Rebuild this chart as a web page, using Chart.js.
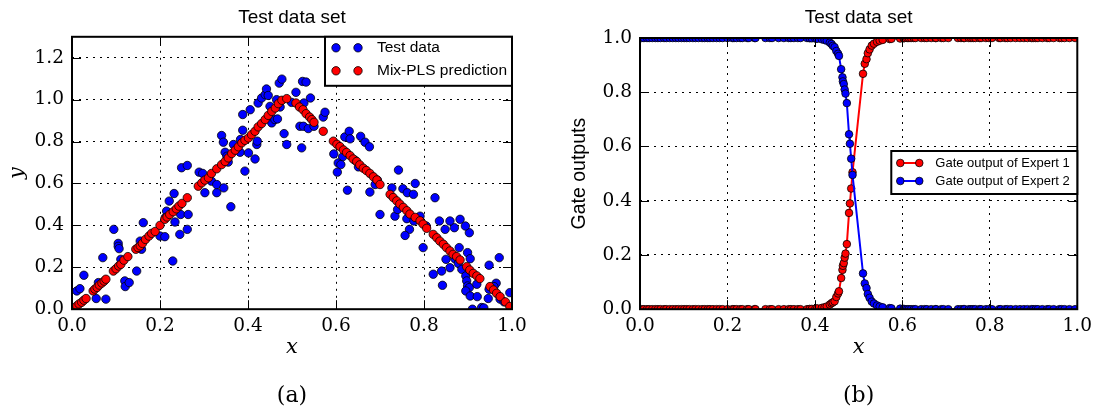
<!DOCTYPE html>
<html>
<head>
<meta charset="utf-8">
<script src="https://cdn.jsdelivr.net/npm/chart.js@4.4.0/dist/chart.umd.min.js"></script>
<style>
  html, body { margin: 0; padding: 0; background: #fff; }
  #wrap { position: relative; width: 1098px; height: 412px; }
  canvas { position: absolute; top: 0; }
</style>
</head>
<body>
<div id="wrap">
  <canvas id="chartA" width="549" height="412" style="left:0"></canvas>
  <canvas id="chartB" width="549" height="412" style="left:549px"></canvas>
</div>
<script>
// (a) test data
const testX = [
  0.011,0.018,0.027,0.055,0.060,0.070,0.077,0.095,0.105,0.105,
  0.107,0.111,0.120,0.121,0.130,0.147,0.155,0.158,0.162,0.200,
  0.211,0.221,0.229,0.232,0.219,0.234,0.245,0.247,0.264,0.262,
  0.215,0.212,0.249,0.262,0.289,0.297,0.302,0.317,0.329,0.329,
  0.345,0.361,0.393,0.340,0.344,0.348,0.352,0.355,0.367,0.382,
  0.388,0.388,0.401,0.416,0.420,0.421,0.405,0.423,0.431,0.439,
  0.442,0.450,0.454,0.461,0.467,0.473,0.465,0.471,0.477,0.482,
  0.488,0.499,0.446,0.509,0.524,0.532,0.542,0.527,0.518,0.526,
  0.537,0.550,0.522,0.571,0.575,0.620,0.630,0.632,0.656,0.666,
  0.676,0.595,0.615,0.605,0.611,0.643,0.651,0.603,0.742,0.626,
  0.677,0.689,0.700,0.727,0.752,0.762,0.776,0.780,0.734,0.740,
  0.761,0.767,0.757,0.777,0.791,0.798,0.805,0.825,0.835,0.848,
  0.850,0.840,0.821,0.842,0.869,0.880,0.870,0.903,0.899,0.905,
  0.859,0.878,0.886,0.895,0.897,0.899,0.903,0.895,0.905,0.920,
  0.921,0.931,0.948,0.964,0.959,0.948,0.946,0.971,0.973,0.982,
  0.995,0.910,0.936,0.859,0.882,0.894,0.694,0.383
];
const testY = [
  0.087,0.098,0.162,0.051,0.127,0.246,0.048,0.381,0.314,0.300,
  0.289,0.238,0.135,0.108,0.127,0.182,0.325,0.286,0.413,0.349,
  0.346,0.516,0.230,0.552,0.452,0.416,0.357,0.452,0.452,0.381,
  0.468,0.437,0.675,0.686,0.654,0.648,0.556,0.611,0.556,0.595,
  0.579,0.489,0.659,0.829,0.797,0.749,0.730,0.702,0.786,0.749,
  0.929,0.854,0.746,0.717,0.786,0.802,0.952,0.984,1.008,1.024,
  1.051,0.968,0.889,0.905,0.908,0.965,1.000,1.079,1.098,0.838,
  0.786,0.987,1.020,1.035,1.087,1.084,1.008,0.984,0.873,0.873,
  0.862,0.873,0.770,0.917,0.940,0.822,0.849,0.813,0.825,0.797,
  0.775,0.741,0.727,0.698,0.690,0.711,0.679,0.654,0.664,0.568,
  0.559,0.595,0.452,0.579,0.575,0.556,0.548,0.600,0.444,0.476,
  0.432,0.381,0.352,0.421,0.444,0.294,0.397,0.532,0.421,0.381,
  0.238,0.182,0.167,0.114,0.389,0.294,0.241,0.365,0.270,0.241,
  0.198,0.219,0.190,0.159,0.135,0.111,0.103,0.087,0.063,0.119,
  0.060,0.008,0.210,0.124,0.108,0.095,0.051,0.246,0.048,0.035,
  0.079,0.000,0.006,0.421,0.429,0.397,0.616,0.810
];

// (a) Mix-PLS prediction
const predX = [
  0.006,0.011,0.016,0.022,0.027,0.032,
  0.048,0.052,0.057,0.062,0.068,0.073,0.077,
  0.094,0.100,0.106,0.111,0.118,0.127,
  0.145,0.150,0.155,0.160,0.167,0.175,0.181,0.189,
  0.200,0.211,0.216,0.222,0.230,0.237,0.243,0.250,0.262,
  0.287,0.295,0.302,0.310,0.317,0.329,0.340,0.348,0.355,0.363,
  0.371,0.378,0.386,0.393,0.401,0.408,0.416,0.423,0.431,0.439,
  0.446,0.454,0.462,0.469,0.477,0.488,
  0.509,0.517,0.525,0.532,0.540,0.545,0.550,0.571,
  0.594,0.602,0.609,0.617,0.624,0.632,0.639,0.647,0.654,0.662,0.669,0.677,
  0.685,0.693,0.700,
  0.723,0.730,0.738,0.745,0.753,0.761,0.768,0.780,0.791,0.798,0.806,
  0.821,0.829,0.836,0.844,0.851,0.859,0.866,0.874,0.882,
  0.897,0.904,0.912,0.920,0.927,
  0.950,0.958,0.965,0.973,0.985,0.995
];
const predY = [
  0.005,0.016,0.025,0.033,0.043,0.051,
  0.087,0.096,0.104,0.115,0.125,0.134,0.143,
  0.182,0.193,0.206,0.214,0.234,0.251,
  0.286,0.294,0.302,0.314,0.333,0.349,0.362,0.371,
  0.400,0.429,0.440,0.452,0.465,0.479,0.492,0.505,0.532,
  0.587,0.603,0.616,0.627,0.648,0.670,0.690,0.705,0.722,0.743,
  0.759,0.775,0.794,0.806,0.817,0.833,0.849,0.870,0.886,0.905,
  0.925,0.944,0.960,0.981,0.997,1.005,
  0.984,0.965,0.952,0.933,0.917,0.905,0.892,0.849,
  0.802,0.787,0.776,0.760,0.748,0.733,0.717,0.705,0.689,0.673,0.662,0.648,
  0.632,0.617,0.595,
  0.548,0.533,0.517,0.502,0.486,0.470,0.454,0.438,0.422,0.406,0.386,
  0.357,0.341,0.325,0.310,0.294,0.278,0.262,0.251,0.235,
  0.203,0.187,0.171,0.159,0.146,
  0.108,0.092,0.076,0.060,0.035,0.013
];

// (b) gate outputs
const gateX = [
  0.004,0.009,0.016,0.021,0.028,0.035,0.041,0.047,0.055,0.060,
  0.068,0.075,0.082,0.088,0.095,0.101,0.107,0.113,0.121,0.127,
  0.134,0.142,0.148,0.155,0.160,0.167,0.175,0.182,0.189,0.200,
  0.211,0.215,0.221,0.229,0.234,0.245,0.249,0.262,0.264,0.287,
  0.297,0.302,0.317,0.329,0.340,0.345,0.352,0.361,0.367,0.382,
  0.388,0.393,0.401,0.405,0.416,
  0.422,0.427,0.434,0.438,0.441,0.445,0.449,0.453,0.455,0.460,
  0.463,0.464,0.466,0.468,0.470,0.473,0.478,0.480,0.483,0.486,
  0.510,0.514,0.518,0.521,0.525,0.530,0.535,0.542,0.548,0.555,
  0.571,
  0.575,0.595,0.603,0.605,0.611,0.615,0.620,0.626,0.630,0.643,
  0.651,0.656,0.666,0.676,0.677,0.689,0.694,0.705,0.727,0.734,
  0.740,0.742,0.752,0.757,0.762,0.767,0.776,0.780,0.791,0.798,
  0.805,0.821,0.825,0.835,0.840,0.848,0.859,0.869,0.878,0.886,
  0.895,0.899,0.905,0.910,0.920,0.931,0.936,0.946,0.959,0.964,
  0.971,0.982,0.995
];
const gateExpert1 = [
  0,0,0,0,0,0,0,0,0,0,
  0,0,0,0,0,0,0,0,0,0,
  0,0,0,0,0,0,0,0,0,0,
  0,0,0,0,0,0,0,0,0,0,
  0,0,0,0,0,0,0,0,0,0,
  0.001,0.001,0.002,0.003,0.005,
  0.007,0.010,0.017,0.022,0.025,0.029,0.045,0.058,0.066,0.115,
  0.145,0.160,0.170,0.190,0.205,0.240,0.355,0.390,0.445,0.505,
  0.868,0.905,0.922,0.944,0.958,0.972,0.979,0.986,0.990,0.993,
  0.996,
  0.997,0.998,0.999,1,1,1,1,1,1,1,
  1,1,1,1,1,1,1,1,1,1,
  1,1,1,1,1,1,1,1,1,1,
  1,1,1,1,1,1,1,1,1,1,
  1,1,1,1,1,1,1,1,1,1,
  1,1,1
];
const gateExpert2 = [
  1,1,1,1,1,1,1,1,1,1,
  1,1,1,1,1,1,1,1,1,1,
  1,1,1,1,1,1,1,1,1,1,
  1,1,1,1,1,1,1,1,1,1,
  1,1,1,1,1,1,1,1,1,1,
  0.999,0.999,0.998,0.997,0.995,
  0.993,0.990,0.983,0.978,0.971,0.966,0.952,0.942,0.934,0.885,
  0.855,0.840,0.830,0.810,0.795,0.760,0.645,0.610,0.555,0.495,
  0.132,0.095,0.078,0.056,0.042,0.028,0.021,0.014,0.010,0.007,
  0.004,
  0.003,0.002,0.001,0,0,0,0,0,0,0,
  0,0,0,0,0,0,0,0,0,0,
  0,0,0,0,0,0,0,0,0,0,
  0,0,0,0,0,0,0,0,0,0,
  0,0,0,0,0,0,0,0,0,0,
  0,0,0
];

const BLUE = '#0000ff';
const RED = '#ff0000';
const SERIF = "'DejaVu Serif', serif";
const SANS = "'Liberation Sans', Arial, sans-serif";
const TICK_LEN = 9;

Chart.defaults.color = '#000';

const pts = (xs, ys) => xs.map((x, i) => ({ x, y: ys[i] }));
const fmt = v => Number(v).toFixed(1);

// matplotlib style frame with inward ticks on all four sides
const frameTicks = {
  id: 'frameTicks',
  afterDatasetsDraw(chart) {
    const { ctx, chartArea: a, scales: { x, y } } = chart;
    ctx.save();
    ctx.strokeStyle = '#000';
    ctx.lineWidth = 1;
    ctx.beginPath();
    x.ticks.forEach(t => {
      const px = Math.round(x.getPixelForValue(t.value)) + 0.5;
      ctx.moveTo(px, a.bottom); ctx.lineTo(px, a.bottom - TICK_LEN);
      ctx.moveTo(px, a.top); ctx.lineTo(px, a.top + TICK_LEN);
    });
    y.ticks.forEach(t => {
      const py = Math.round(y.getPixelForValue(t.value)) + 0.5;
      ctx.moveTo(a.left, py); ctx.lineTo(a.left + TICK_LEN, py);
      ctx.moveTo(a.right, py); ctx.lineTo(a.right - TICK_LEN, py);
    });
    ctx.stroke();
    ctx.lineWidth = 2;
    ctx.strokeRect(a.left, a.top, a.right - a.left, a.bottom - a.top);
    ctx.restore();
  }
};

// legend box inside the plot, top-right aligned
function makeLegend(cfg) {
  return {
    id: 'boxLegend',
    afterDraw(chart) {
      const { ctx, chartArea: a } = chart;
      const left = a.right - cfg.width, top = a.top + cfg.top;
      ctx.save();
      ctx.fillStyle = '#fff';
      ctx.fillRect(left, top, cfg.width, cfg.height);
      ctx.lineWidth = 2;
      ctx.strokeStyle = '#000';
      ctx.strokeRect(left, top, cfg.width, cfg.height);
      ctx.font = cfg.font;
      ctx.textBaseline = 'middle';
      ctx.textAlign = 'left';
      chart.data.datasets.forEach((ds, row) => {
        const cy = top + cfg.rowY[row];
        const [m1, m2] = cfg.marks.map(m => left + m);
        if (ds.showLine) {
          ctx.strokeStyle = ds.borderColor;
          ctx.lineWidth = ds.borderWidth;
          ctx.beginPath(); ctx.moveTo(m1, cy); ctx.lineTo(m2, cy); ctx.stroke();
        }
        [m1, m2].forEach(mx => {
          ctx.beginPath();
          ctx.arc(mx, cy, ds.pointRadius, 0, Math.PI * 2);
          ctx.fillStyle = ds.pointBackgroundColor;
          ctx.fill();
          ctx.lineWidth = ds.pointBorderWidth;
          ctx.strokeStyle = '#000';
          ctx.stroke();
        });
        ctx.fillStyle = '#000';
        ctx.fillText(ds.label, left + cfg.textX, cy);
      });
      ctx.restore();
    }
  };
}

function axisX(title) {
  return {
    type: 'linear', min: 0, max: 1,
    ticks: { stepSize: 0.2, padding: 6, maxRotation: 0, callback: fmt,
             font: { family: SERIF, size: 18.5 } },
    grid: { color: '#000', lineWidth: 1, drawTicks: false },
    border: { display: false, dash: [2, 5] },
    title: { display: true, text: title,
             font: { family: SERIF, style: 'italic', size: 21 },
             padding: { top: 0, bottom: 23 } },
    afterFit: s => { s.height = 73.8; }
  };
}

function axisY(max, width, title, titleFont, titlePad) {
  return {
    type: 'linear', min: 0, max,
    ticks: { stepSize: 0.2, includeBounds: false, padding: 8, callback: fmt,
             font: { family: SERIF, size: 18.5 } },
    grid: { color: '#000', lineWidth: 1, drawTicks: false },
    border: { display: false, dash: [2, 5] },
    title: { display: true, text: title, font: titleFont,
             padding: { top: titlePad, bottom: 0 } },
    afterFit: s => { s.width = width; }
  };
}

function commonPlugins(sub, titlePadBottom) {
  return {
    legend: { display: false },
    tooltip: { enabled: false },
    title: { display: true, text: 'Test data set', fullSize: false,
             font: { family: SANS, size: 19, weight: 'normal' },
             padding: { top: 6, bottom: titlePadBottom } },
    subtitle: { display: true, text: sub, position: 'bottom', fullSize: false,
                font: { family: SERIF, size: 22, weight: 'normal' },
                padding: { top: 0, bottom: 2.6 } }
  };
}

new Chart(document.getElementById('chartA'), {
  type: 'scatter',
  data: {
    datasets: [
      { label: 'Test data', data: pts(testX, testY), order: 1,
        pointRadius: 4.2, pointBackgroundColor: BLUE, pointBorderColor: '#000', pointBorderWidth: 0.8 },
      { label: 'Mix-PLS prediction', data: pts(predX, predY), order: 0,
        pointRadius: 4.2, pointBackgroundColor: RED, pointBorderColor: '#000', pointBorderWidth: 0.8 }
    ]
  },
  options: {
    responsive: false,
    animation: false,
    events: [],
    layout: { padding: { left: 0, right: 37, top: 0, bottom: 0 } },
    scales: {
      x: axisX('x'),
      y: axisY(1.3, 72, 'y', { family: SERIF, style: 'italic', size: 21 }, 5)
    },
    plugins: commonPlugins('(a)', 8)
  },
  plugins: [frameTicks, makeLegend({
    width: 187, height: 49, top: 0, marks: [11, 33], textX: 52, rowY: [11, 34],
    font: "15.5px 'Liberation Sans', Arial, sans-serif"
  })]
});

new Chart(document.getElementById('chartB'), {
  type: 'scatter',
  data: {
    datasets: [
      { label: 'Gate output of Expert 1', data: pts(gateX, gateExpert1), order: 1,
        showLine: true, borderColor: RED, borderWidth: 2, tension: 0,
        pointRadius: 3.8, pointBackgroundColor: RED, pointBorderColor: '#000', pointBorderWidth: 0.8 },
      { label: 'Gate output of Expert 2', data: pts(gateX, gateExpert2), order: 0,
        showLine: true, borderColor: BLUE, borderWidth: 2, tension: 0,
        pointRadius: 3.8, pointBackgroundColor: BLUE, pointBorderColor: '#000', pointBorderWidth: 0.8 }
    ]
  },
  options: {
    responsive: false,
    animation: false,
    events: [],
    layout: { padding: { left: 0, right: 20, top: 0, bottom: 0 } },
    scales: {
      x: axisX('x'),
      y: axisY(1, 91, 'Gate outputs', { family: SANS, size: 19.5 }, 19)
    },
    plugins: commonPlugins('(b)', 9.2)
  },
  plugins: [frameTicks, makeLegend({
    width: 186, height: 43, top: 113, marks: [9, 28], textX: 44, rowY: [12, 30],
    font: "13px 'Liberation Sans', Arial, sans-serif"
  })]
});
</script>
</body>
</html>
